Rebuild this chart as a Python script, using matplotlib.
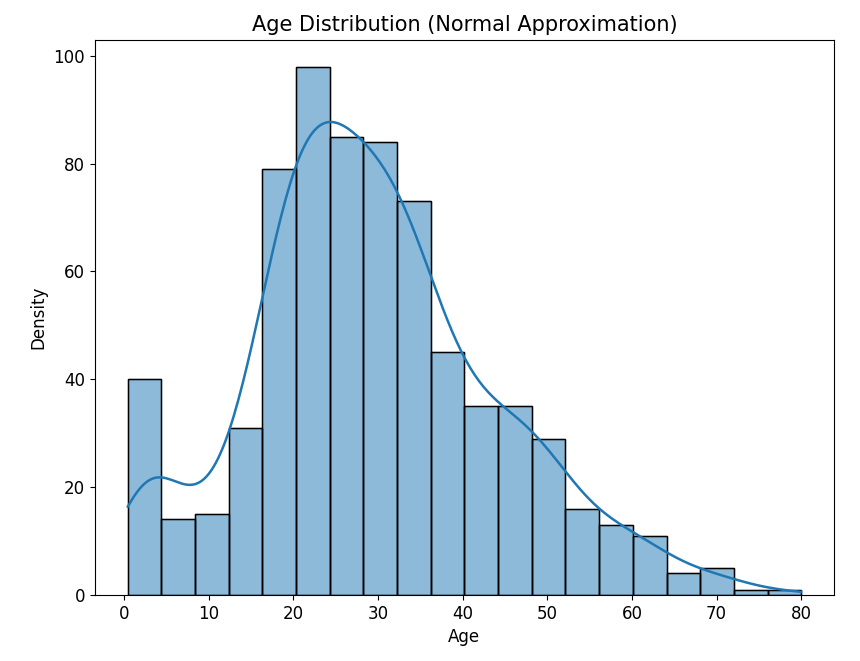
import numpy as np
import matplotlib
matplotlib.use("Agg")
import matplotlib.pyplot as plt

age_min, age_max = 0.42, 80.0
counts = [40, 14, 15, 31, 79, 98, 85, 84, 73, 45, 35, 35, 29, 16, 13, 11, 4, 5, 1, 1]
title = "Age Distribution (Normal Approximation)"
xlabel = "Age"
ylabel = "Density"

edges = np.linspace(age_min, age_max, len(counts) + 1)
width = edges[1] - edges[0]
centers = (edges[:-1] + edges[1:]) / 2

fig = plt.figure(figsize=(8.6, 6.61), dpi=100)
ax = fig.add_axes([0.11, 0.10, 0.86, 0.84])
ax.bar(edges[:-1], counts, width=width, align="edge",
       color="#1f77b4", alpha=0.5, edgecolor="black", linewidth=1)
ax.bar(edges[:-1], counts, width=width, align="edge",
       fill=False, edgecolor="black", linewidth=1)

# KDE computed from the binned data (Scott bandwidth), scaled to counts
sample = np.repeat(centers, counts)
n = sample.size
bw = sample.std(ddof=1) * n ** (-1 / 5)
xs = np.linspace(age_min, age_max, 300)
dens = np.exp(-0.5 * ((xs[:, None] - sample[None, :]) / bw) ** 2).sum(1) / (n * bw * np.sqrt(2 * np.pi))
ax.plot(xs, dens * n * width, color="#1f77b4", linewidth=1.8)

ax.set_xlim(-3.5, 83.9)
ax.set_ylim(0, 103)
ax.set_xticks(range(0, 81, 10))
ax.set_title(title, fontsize=15)
ax.set_xlabel(xlabel, fontsize=12)
ax.set_ylabel(ylabel, fontsize=12)
ax.tick_params(labelsize=12)
fig.savefig("out.png", dpi=100)
